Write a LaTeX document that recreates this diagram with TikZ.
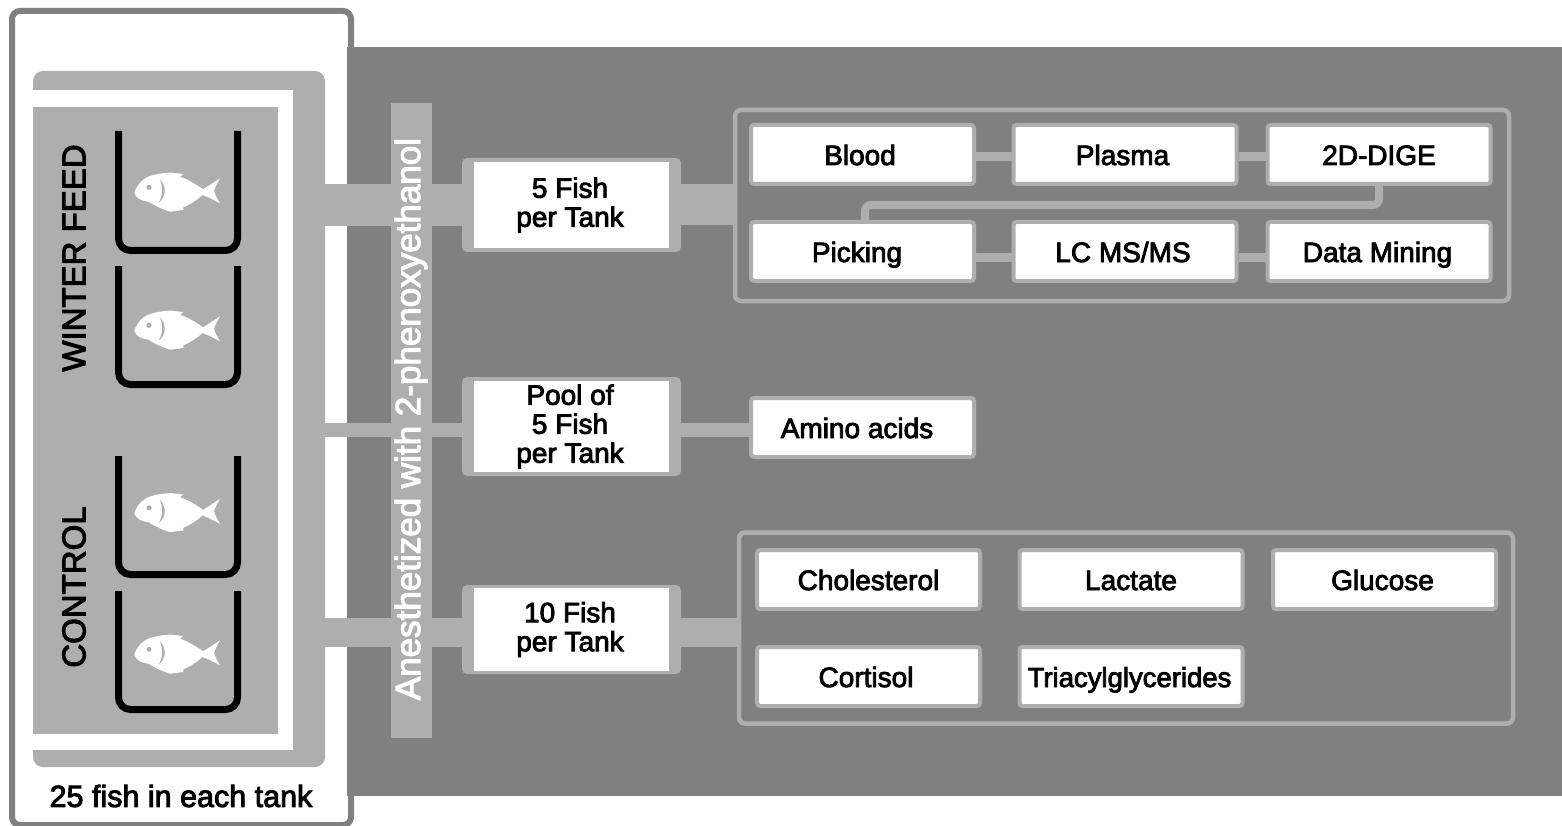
\documentclass[tikz,border=0pt]{standalone}
\usepackage{fontspec}
\setmainfont{Liberation Sans}
\newfontfamily\labelfont[FakeBold=3]{Liberation Sans}
\usepackage{xcolor}
\usetikzlibrary{positioning,calc}
\definecolor{panelgrey}{HTML}{AEAEAE}
\definecolor{darkgrey}{HTML}{808080}
\tikzset{
  stepbox/.style={draw=panelgrey, fill=white, line width=4pt, rounded corners=3pt, minimum width=223pt, minimum height=59pt, inner sep=0pt, text height=21pt, text depth=0pt, font=\labelfont\fontsize{28}{29}\selectfont, text=black},
  groupbox/.style={draw=panelgrey, line width=4.5pt, rounded corners=6pt, minimum width=774pt, minimum height=191pt, inner sep=0pt},
  fishwrap/.style={fill=panelgrey, rounded corners=5pt, minimum width=219pt, inner sep=0pt},
  fishbox/.style={fill=white, minimum width=195pt, inner sep=0pt, align=center, font=\labelfont\fontsize{28}{29}\selectfont, text=black},
  thinlink/.style={draw=panelgrey, line width=9pt},
  tankwall/.style={draw=black, line width=7pt, rounded corners=12pt},
  fish/.pic={
    \fill[white] (-43.2,0.7) .. controls (-40,-9) and (-33,-15) .. (-24,-17)
      .. controls (-18,-18.5) and (-10,-19.5) .. (-5.8,-19.3)
      -- (5.8,-18) -- (2.5,-15.3)
      .. controls (12,-12) and (19,-7) .. (25.8,-2.7)
      .. controls (31,-6) and (37,-10) .. (42.5,-13.7)
      .. controls (40,-9) and (37.5,-5) .. (36.5,-1.3)
      .. controls (37.5,3) and (40,7) .. (42.5,11.3)
      .. controls (36,8) and (31,5) .. (25.2,3)
      .. controls (19,8) and (12,13) .. (5.8,15.3)
      -- (5.8,18) -- (-7.5,19.7)
      .. controls (-16,17) and (-24,13) .. (-29,9.7)
      .. controls (-36,9) and (-42,6) .. (-43.2,0.7) -- cycle;
    \fill[panelgrey] (-28.5,-4.7) circle (2.5);
    \fill[panelgrey] (-17.5,-13) .. controls (-11,-5) and (-11,4) .. (-19,11)
      .. controls (-14.5,4) and (-14.5,-5) .. (-17.5,-13) -- cycle;
  }
}
\begin{document}
\begin{tikzpicture}[x=1pt, y=-1pt]
  \useasboundingbox (0,0) rectangle (1562,826);
  % tank side
  \node[draw=darkgrey, fill=white, line width=6pt, rounded corners=8pt, minimum width=339pt, minimum height=814pt, inner sep=0pt] (tankframe) at (181.5,418) {};
  \fill[darkgrey] (347,47) rectangle (1562,796);
  \node[fill=panelgrey, rounded corners=10pt, minimum width=292pt, minimum height=696pt, inner sep=0pt] (panel) at (179,419) {};
  \fill[white] (33,90) rectangle (293,750);
  \node[fill=panelgrey, minimum width=245pt, minimum height=627pt, inner sep=0pt] (tankarea) at (155.5,420.5) {};
  \foreach \y/\d/\f in {131/119.5/192, 266/118.5/330, 456/118.5/512.5, 591/118.5/654} {
    \draw[tankwall] (118.5,\y) -- (118.5,\y+\d) -- (237.5,\y+\d) -- (237.5,\y);
    \pic at (177.5,\f) {fish};
  }
  \node[rotate=90, font=\labelfont\fontsize{33}{33}\selectfont] (winter) at (74,258) {WINTER FEED};
  \node[rotate=90, font=\labelfont\fontsize{33}{33}\selectfont] (control) at (74,587) {CONTROL};
  \node[font=\labelfont\fontsize{30.5}{30}\selectfont] (tanklabel) at (181,796) {25 fish in each tank};
  % sampling boxes
  \node[fishwrap, minimum height=94pt] (fivewrap) at (571.5,205) {};
  \node[fishbox, minimum height=86pt] (five) at (571.5,205) {\kern-3pt 5 Fish\\\kern-3pt per Tank};
  \node[fishwrap, minimum height=99pt] (poolwrap) at (571.5,426.5) {};
  \node[fishbox, minimum height=91pt] (pool) at (571.5,426.5) {\kern-3pt Pool of\\\kern-3pt 5 Fish\\\kern-3pt per Tank};
  \node[fishwrap, minimum height=89pt] (tenwrap) at (571.5,629.5) {};
  \node[fishbox, minimum height=83pt] (ten) at (571.5,629.5) {\kern-3pt 10 Fish\\\kern-3pt per Tank};
  % analyses
  \node[groupbox] (proteome) at (1122,205.5) {};
  \node[groupbox] (metabolite) at (1126,628) {};
  \node[stepbox] (blood) at (862.5,154.5) {\kern-5pt Blood};
  \node[stepbox] (plasma) at (1125,154.5) {\kern-5pt Plasma};
  \node[stepbox] (dige) at (1379,154.5) {2D-DIGE};
  \node[stepbox] (picking) at (862.5,251.5) {\kern-11pt Picking};
  \node[stepbox] (lcms) at (1125,251.5) {\kern-4pt LC MS/MS};
  \node[stepbox] (mining) at (1379,251.5) {\kern-3pt Data Mining};
  \node[stepbox] (amino) at (862.5,427.5) {\kern-11pt Amino acids};
  \node[stepbox] (chol) at (868.5,579.5) {Cholesterol};
  \node[stepbox] (lactate) at (1131,579.5) {Lactate};
  \node[stepbox] (glucose) at (1384.5,579.5) {\kern-4pt Glucose};
  \node[stepbox] (cortisol) at (868.5,676.5) {\kern-5pt Cortisol};
  \node[stepbox, font=\labelfont\fontsize{27.5}{29}\selectfont] (triacyl) at (1131,676.5) {\kern-3pt Triacylglycerides};
  % connectors
  \draw[panelgrey, line width=42pt] (panel.east |- fivewrap) -- (fivewrap.west);
  \draw[panelgrey, line width=14pt] ($(panel.east |- poolwrap)+(0,3.5)$) -- ($(poolwrap.west)+(0,3.5)$);
  \draw[panelgrey, line width=29pt] ($(panel.east |- tenwrap)+(0,3)$) -- ($(tenwrap.west)+(0,3)$);
  \draw[panelgrey, line width=41pt] (fivewrap.east) -- (proteome.west |- fivewrap.east);
  \draw[panelgrey, line width=14pt] ($(poolwrap.east)+(0,3.5)$) -- ($(amino.west)+(0,2.5)$);
  \draw[panelgrey, line width=29pt] ($(tenwrap.east)+(0,3)$) -- ($(metabolite.west |- tenwrap.east)+(0,3)$);
  \draw[thinlink] ($(blood.east)+(0,2)$) -- ($(plasma.west)+(0,2)$);
  \draw[thinlink] ($(plasma.east)+(0,2)$) -- ($(dige.west)+(0,2)$);
  \draw[thinlink] ($(picking.east)+(0,6)$) -- ($(lcms.west)+(0,6)$);
  \draw[thinlink] ($(lcms.east)+(0,6)$) -- ($(mining.west)+(0,6)$);
  \draw[panelgrey, line width=8pt, rounded corners=6pt] (dige.south) -- ++(0,19) -| ($(picking.north)+(2.5,0)$);
  % anaesthetic bar
  \node[fill=panelgrey, minimum width=41pt, minimum height=635pt, inner sep=0pt] (anesth) at (411.5,420.5) {};
  \node[rotate=90, text=white, font=\labelfont\fontsize{35}{35}\selectfont] (anesthlabel) at (411,419) {Anesthetized with 2-phenoxyethanol};
\end{tikzpicture}
\end{document}
